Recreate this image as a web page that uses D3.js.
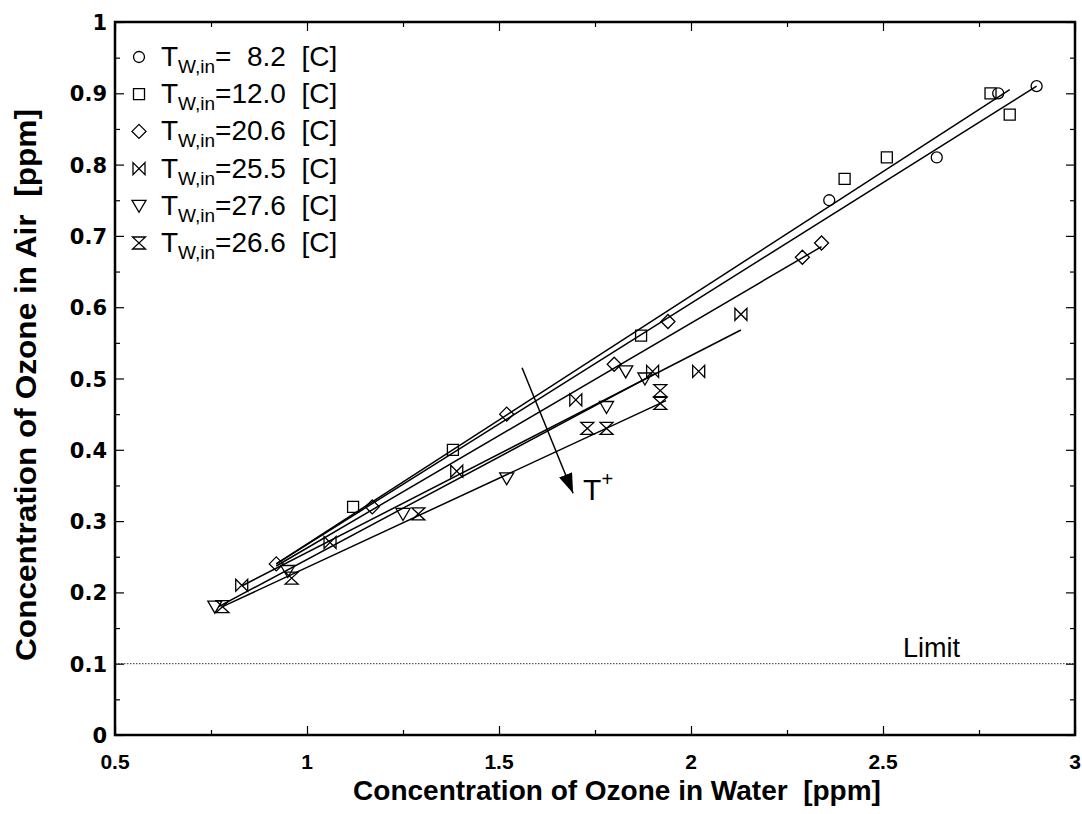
<!DOCTYPE html>
<html>
<head>
<meta charset="utf-8">
<script src="https://cdn.jsdelivr.net/npm/d3@7"></script>
<style>
  html, body { margin: 0; padding: 0; background: #fff; }
  svg text { white-space: pre; }
</style>
</head>
<body>
<svg id="chart" width="1082" height="814"></svg>
<script>
// Ozone concentration in air vs. in water, for several inlet water temperatures
const seriesNames = ["=  8.2  [C]", "=12.0  [C]", "=20.6  [C]", "=25.5  [C]", "=27.6  [C]", "=26.6  [C]"];
const markerKinds = ["circle", "square", "diamond", "bowtie", "triangle", "hourglass"];

const t082 = [[2.36, 0.75], [2.64, 0.81], [2.80, 0.90], [2.90, 0.91]];
const t120 = [[1.12, 0.32], [1.38, 0.40], [1.87, 0.56], [2.40, 0.78], [2.51, 0.81], [2.78, 0.90], [2.83, 0.87]];
const t206 = [[0.92, 0.24], [1.17, 0.32], [1.52, 0.45], [1.80, 0.52], [1.94, 0.58], [2.29, 0.67], [2.34, 0.69]];
const t255 = [[0.83, 0.21], [1.06, 0.27], [1.39, 0.37], [1.70, 0.47], [1.90, 0.51], [2.02, 0.51], [2.13, 0.59]];
const t276 = [[0.76, 0.18], [0.95, 0.23], [1.25, 0.31], [1.52, 0.36], [1.78, 0.46], [1.83, 0.51], [1.88, 0.50]];
const t266 = [[0.78, 0.18], [0.96, 0.22], [1.29, 0.31], [1.73, 0.43], [1.78, 0.43], [1.92, 0.465], [1.92, 0.483]];
const seriesPoints = [t082, t120, t206, t255, t276, t266];

// linear fit for each series: [x0, y0, x1, y1]
const fitLines = [
  [0.92, 0.240, 2.90, 0.910],
  [0.92, 0.240, 2.83, 0.905],
  [0.92, 0.237, 2.34, 0.685],
  [0.83, 0.209, 2.13, 0.568],
  [0.77, 0.180, 1.91, 0.508],
  [0.78, 0.180, 1.935, 0.469]
];

const xTicks = [0.5, 1, 1.5, 2, 2.5, 3];
const xTickLabels = ["0.5", "1", "1.5", "2", "2.5", "3"];
const yTicks = [0, 0.1, 0.2, 0.3, 0.4, 0.5, 0.6, 0.7, 0.8, 0.9, 1];
const yTickLabels = ["0", "0.1", "0.2", "0.3", "0.4", "0.5", "0.6", "0.7", "0.8", "0.9", "1"];

const limitValue = 0.1;
const trendArrow = [1.560, 0.515, 1.693, 0.339];   // temperature trend arrow
const trendLabelAt = [1.719, 0.330];
const limitLabelAt = [2.552, 0.109];

const svg = d3.select("#chart");
const plot = { left: 115, right: 1075, top: 22, bottom: 735 };

const x = d3.scaleLinear().domain([0.5, 3]).range([plot.left, plot.right]);
const y = d3.scaleLinear().domain([0, 1]).range([plot.bottom, plot.top]);

// ---- marker shapes (unfilled outlines) ----
function markerPath(kind) {
  switch (kind) {
    case "circle": return "M5.5,0A5.5,5.5 0 1,1 -5.5,0A5.5,5.5 0 1,1 5.5,0Z";
    case "square": return "M-5.5,-5.5H5.5V5.5H-5.5Z";
    case "diamond": return "M0,-7L7,0L0,7L-7,0Z";
    case "bowtie": return "M-6,-6L6,6L6,-6L-6,6Z";
    case "hourglass": return "M-6.5,-6L6.5,-6L-6.5,6L6.5,6Z";
    case "triangle": return "M-7,-5.5L7,-5.5L0,6.5Z";
  }
}

// ---- limit line ----
svg.append("line")
  .attr("x1", x(0.5)).attr("x2", x(3))
  .attr("y1", y(limitValue)).attr("y2", y(limitValue))
  .attr("stroke", "#000").attr("stroke-width", 0.8)
  .attr("stroke-dasharray", "1.5,1.5");
svg.append("text")
  .attr("x", x(limitLabelAt[0])).attr("y", y(limitLabelAt[1]))
  .attr("font-family", "Liberation Sans, Arial, sans-serif")
  .attr("font-size", 27).attr("fill", "#000")
  .text("Limit");

// ---- fit lines ----
svg.append("g").selectAll("line").data(fitLines).join("line")
  .attr("x1", d => x(d[0])).attr("y1", d => y(d[1]))
  .attr("x2", d => x(d[2])).attr("y2", d => y(d[3]))
  .attr("stroke", "#000").attr("stroke-width", 1.5);

// ---- data markers ----
seriesPoints.forEach((pts, i) => {
  svg.append("g").selectAll("path").data(pts).join("path")
    .attr("transform", d => `translate(${x(d[0])},${y(d[1])})`)
    .attr("d", markerPath(markerKinds[i]))
    .attr("fill", "none").attr("stroke", "#000").attr("stroke-width", 1.3);
});

// ---- temperature trend arrow ----
const defs = svg.append("defs");
defs.append("marker")
  .attr("id", "arrowHead").attr("viewBox", "0 0 20 14")
  .attr("refX", 20).attr("refY", 7)
  .attr("markerWidth", 20).attr("markerHeight", 14)
  .attr("markerUnits", "userSpaceOnUse").attr("orient", "auto")
  .append("path").attr("d", "M0,0L20,7L0,14Z").attr("fill", "#000");
svg.append("line")
  .attr("x1", x(trendArrow[0])).attr("y1", y(trendArrow[1]))
  .attr("x2", x(trendArrow[2])).attr("y2", y(trendArrow[3]))
  .attr("stroke", "#000").attr("stroke-width", 1.5)
  .attr("marker-end", "url(#arrowHead)");
const tl = svg.append("text")
  .attr("x", x(trendLabelAt[0])).attr("y", y(trendLabelAt[1]))
  .attr("font-family", "Liberation Sans, Arial, sans-serif")
  .attr("font-size", 30).attr("fill", "#000");
tl.append("tspan").text("T");
tl.append("tspan").attr("font-size", 20).attr("dy", -14).text("+");

// ---- axes: ticks inside on all four sides ----
const majorLen = 9, minorLen = 5;
const xMinor = d3.range(0.75, 3, 0.5);
const yMinor = d3.range(0.05, 1, 0.1);

function styleAxis(g) {
  g.select(".domain").remove();
  g.selectAll(".tick line").attr("stroke", "#000").attr("stroke-width", 1.2);
}
function addAxis(axisFn, scale, values, len, transform) {
  svg.append("g").attr("transform", transform)
    .call(axisFn(scale).tickValues(values).tickSize(-len).tickFormat(""))
    .call(styleAxis);
}
[[xTicks, majorLen], [xMinor, minorLen]].forEach(([v, len]) => {
  addAxis(d3.axisBottom, x, v, len, `translate(0,${plot.bottom})`);
  addAxis(d3.axisTop, x, v, len, `translate(0,${plot.top})`);
});
[[yTicks, majorLen], [yMinor, minorLen]].forEach(([v, len]) => {
  addAxis(d3.axisLeft, y, v, len, `translate(${plot.left},0)`);
  addAxis(d3.axisRight, y, v, len, `translate(${plot.right},0)`);
});

// frame
svg.append("rect")
  .attr("x", plot.left).attr("y", plot.top)
  .attr("width", plot.right - plot.left).attr("height", plot.bottom - plot.top)
  .attr("fill", "none").attr("stroke", "#000").attr("stroke-width", 2.5);

// tick labels
svg.append("g").selectAll("text").data(xTicks).join("text")
  .attr("x", d => x(d)).attr("y", plot.bottom + 34)
  .attr("text-anchor", "middle")
  .attr("font-family", "Liberation Sans, Arial, sans-serif")
  .attr("font-weight", "bold").attr("font-size", 21)
  .text((d, i) => xTickLabels[i]);
svg.append("g").selectAll("text").data(yTicks).join("text")
  .attr("x", plot.left - 8).attr("y", d => y(d) + 8)
  .attr("text-anchor", "end")
  .attr("font-family", "DejaVu Sans, sans-serif")
  .attr("font-weight", "bold").attr("font-size", 21)
  .text((d, i) => yTickLabels[i]);

// axis titles
svg.append("text")
  .attr("x", 617).attr("y", 800)
  .attr("text-anchor", "middle")
  .attr("font-family", "Liberation Sans, Arial, sans-serif")
  .attr("font-weight", "bold").attr("font-size", 28)
  .text("Concentration of Ozone in Water  [ppm]");
svg.append("text")
  .attr("transform", "translate(36,385) rotate(-90)")
  .attr("text-anchor", "middle")
  .attr("font-family", "Liberation Sans, Arial, sans-serif")
  .attr("font-weight", "bold").attr("font-size", 30)
  .attr("textLength", 552).attr("lengthAdjust", "spacingAndGlyphs")
  .text("Concentration of Ozone in Air  [ppm]");

// ---- legend ----
const legendX = 139, legendY0 = 57, legendStep = 37.2;
const legend = svg.append("g");
seriesNames.forEach((name, i) => {
  const cy = legendY0 + i * legendStep;
  legend.append("path")
    .attr("transform", `translate(${legendX},${cy})`)
    .attr("d", markerPath(markerKinds[i]))
    .attr("fill", "none").attr("stroke", "#000").attr("stroke-width", 1.3);
  const t = legend.append("text")
    .attr("x", legendX + 22).attr("y", cy + 9)
    .attr("font-family", "Liberation Sans, Arial, sans-serif")
    .attr("font-size", 28).attr("fill", "#000");
  t.append("tspan").text("T");
  t.append("tspan").attr("font-size", 19).attr("dy", 7).text("W,in");
  t.append("tspan").attr("dy", -7).text(name);
});
</script>
</body>
</html>
